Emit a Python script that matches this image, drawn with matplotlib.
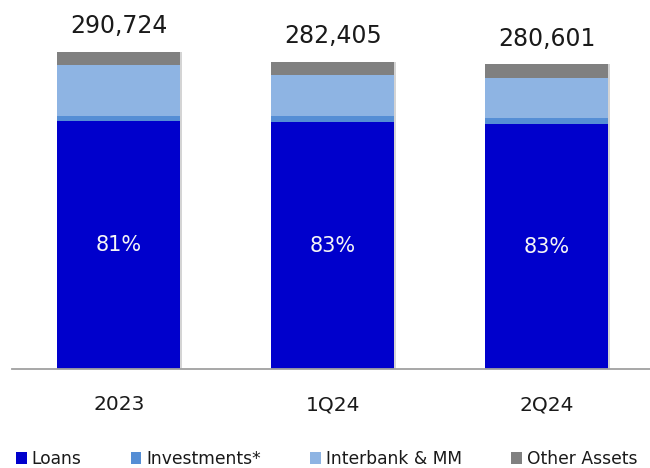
import matplotlib.pyplot as plt
import matplotlib.patheffects as pe

# Total assets breakdown by period
periods = ['2023', '1Q24', '2Q24']
loans = [235486, 234396, 232899]
investments = [4000, 5000, 5000]
interbank = [40900, 32700, 32100]
other_assets = [10338, 10309, 10602]

series = [
    ('Loans', loans, '#0000CC'),
    ('Investments*', investments, '#558ED5'),
    ('Interbank & MM', interbank, '#8EB4E3'),
    ('Other Assets', other_assets, '#808080'),
]

Y_MIN = 37500
Y_MAX = 332000

fig = plt.figure(figsize=(6.5, 4.68), dpi=100)
ax = fig.add_axes([0.018, 0.2115, 0.988, 0.7885])

x = list(range(len(periods)))
bottoms = [0] * len(periods)
# faint shadow along the right edge of each stack
edge_shadow = [pe.SimplePatchShadow(offset=(1.5, 0), shadow_rgbFace='#AAAAAA', alpha=0.5), pe.Normal()]
for name, vals, color in series:
    bars = ax.bar(x, vals, width=0.575, bottom=bottoms, color=color, label=name, zorder=2)
    for b in bars:
        b.set_path_effects(edge_shadow)
    bottoms = [b + v for b, v in zip(bottoms, vals)]

totals = bottoms

# total on top of each bar
for xi, tot in zip(x, totals):
    ax.annotate(f'{tot:,}', (xi, tot), xytext=(0, 13.5), textcoords='offset points',
                ha='center', va='baseline', fontsize=17, color='#1a1a1a')

# loans share, centred in the visible part of the loans segment
for xi, ln, tot in zip(x, loans, totals):
    ax.text(xi, (Y_MIN + ln) / 2, f'{ln / tot:.0%}', ha='center', va='center',
            fontsize=15, color='#F5F5F5')

ax.set_xlim(-0.5, 2.5)
ax.set_ylim(Y_MIN, Y_MAX)
ax.set_xticks(x)
ax.set_xticklabels(periods, fontsize=14.5, color='#1a1a1a')
ax.tick_params(axis='x', length=0, pad=19)
ax.set_yticks([])
for side in ['top', 'right', 'left']:
    ax.spines[side].set_visible(False)
ax.spines['bottom'].set_color('#A0A0A0')
ax.spines['bottom'].set_linewidth(1.3)

leg = fig.legend(loc='center left', bbox_to_anchor=(0.024, 0.019), ncol=4, frameon=False,
                 fontsize=12.3, handlelength=0.64, handleheight=0.65, handletextpad=0.3,
                 columnspacing=2.87, borderpad=0, borderaxespad=0, labelcolor='#1a1a1a')
for h in leg.legend_handles:
    h.set_path_effects([])

fig.savefig('out.png', dpi=100)
